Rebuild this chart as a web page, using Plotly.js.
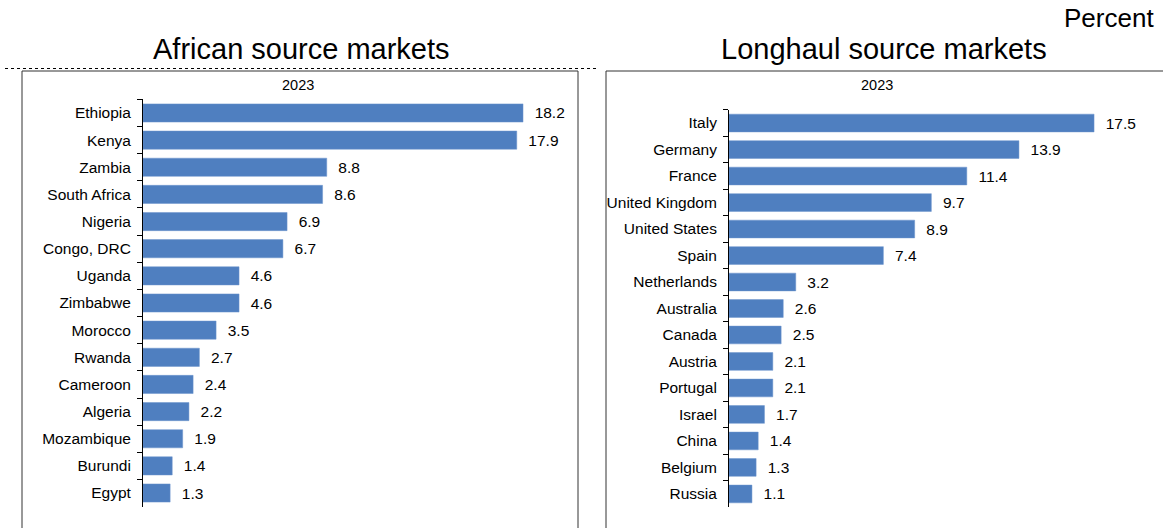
<!DOCTYPE html>
<html>
<head>
<meta charset="utf-8">
<script src="https://cdn.plot.ly/plotly-3.0.1.min.js"></script>
<style>html,body{margin:0;padding:0;background:#fff;}#chart{width:1163px;height:528px;}</style>
</head>
<body>
<div id="chart"></div>
<script>
const africanCountries = ["Ethiopia","Kenya","Zambia","South Africa","Nigeria","Congo, DRC","Uganda","Zimbabwe","Morocco","Rwanda","Cameroon","Algeria","Mozambique","Burundi","Egypt"];
const africanValues = [18.2,17.9,8.8,8.6,6.9,6.7,4.6,4.6,3.5,2.7,2.4,2.2,1.9,1.4,1.3];
const longhaulCountries = ["Italy","Germany","France","United Kingdom","United States","Spain","Netherlands","Australia","Canada","Austria","Portugal","Israel","China","Belgium","Russia"];
const longhaulValues = [17.5,13.9,11.4,9.7,8.9,7.4,3.2,2.6,2.5,2.1,2.1,1.7,1.4,1.3,1.1];
const leftTitle = "African source markets";
const rightTitle = "Longhaul source markets";
const yearLabel = "2023";
const unitLabel = "Percent";

const W = 1163, H = 528;
const px = v => v / W;
const py = v => (H - v) / H;
const labelFont = '"Liberation Sans", Arial, Helvetica, sans-serif';
const regular = '"Liberation Sans", Arial, Helvetica, sans-serif';
const barColor = '#4f7fc0';
const NB = '\u00a0\u00a0';

function barTrace(cats, vals, xa, ya) {
  return {
    type: 'bar', orientation: 'h',
    y: cats, x: vals, xaxis: xa, yaxis: ya,
    marker: {color: barColor, line: {color: '#6d95cc', width: 0.5}},
    text: vals.map(v => NB + v.toFixed(1)),
    textposition: 'outside', cliponaxis: false, constraintext: 'none',
    textfont: {family: labelFont, size: 15.5, color: '#000'},
    hoverinfo: 'skip', showlegend: false
  };
}

const yCommon = {
  type: 'category', range: [14.5, -0.5], autorange: false,
  showline: true, linecolor: '#000', linewidth: 1,
  ticks: 'outside', tickson: 'boundaries', ticklen: 5, tickcolor: '#000', tickwidth: 1,
  tickfont: {family: labelFont, size: 15.5, color: '#000'},
  ticklabelstandoff: 8, showgrid: false, zeroline: false, fixedrange: true
};
const xCommon = {
  range: [0, 20], visible: false, showgrid: false, zeroline: false, fixedrange: true
};

const layout = {
  width: W, height: H,
  margin: {l: 0, r: 0, t: 0, b: 0},
  paper_bgcolor: '#fff', plot_bgcolor: 'rgba(0,0,0,0)',
  bargap: 0.33,
  showlegend: false,
  xaxis: Object.assign({}, xCommon, {domain: [px(143), px(560.6)], anchor: 'y'}),
  yaxis: Object.assign({}, yCommon, {domain: [py(506.6), py(99.4)], anchor: 'x', categoryorder: 'array', categoryarray: africanCountries}),
  xaxis2: Object.assign({}, xCommon, {domain: [px(729), px(1146.2)], anchor: 'y2'}),
  yaxis2: Object.assign({}, yCommon, {domain: [py(507.2), py(109.8)], anchor: 'x2', categoryorder: 'array', categoryarray: longhaulCountries}),
  shapes: [
    {type: 'rect', xref: 'paper', yref: 'paper', x0: px(22), x1: px(578), y0: -0.05, y1: py(71), line: {color: '#333', width: 1}, layer: 'below'},
    {type: 'rect', xref: 'paper', yref: 'paper', x0: px(606), x1: 1.05, y0: -0.05, y1: py(71), line: {color: '#333', width: 1}, layer: 'below'},
    {type: 'line', xref: 'paper', yref: 'paper', x0: px(5), x1: px(597), y0: py(68.5), y1: py(68.5), line: {color: '#000', width: 1.2, dash: 'dot'}}
  ],
  annotations: [
    {text: leftTitle, xref: 'paper', yref: 'paper', x: px(301), y: py(49), xanchor: 'center', yanchor: 'middle', showarrow: false, font: {family: regular, size: 29, color: '#000'}},
    {text: rightTitle, xref: 'paper', yref: 'paper', x: px(884), y: py(49), xanchor: 'center', yanchor: 'middle', showarrow: false, font: {family: regular, size: 29, color: '#000'}},
    {text: unitLabel, xref: 'paper', yref: 'paper', x: px(1156), y: py(18), xanchor: 'right', yanchor: 'middle', showarrow: false, font: {family: regular, size: 26, color: '#000'}},
    {text: yearLabel, xref: 'paper', yref: 'paper', x: px(298), y: py(85), xanchor: 'center', yanchor: 'middle', showarrow: false, font: {family: labelFont, size: 14.5, color: '#000'}},
    {text: yearLabel, xref: 'paper', yref: 'paper', x: px(877), y: py(85), xanchor: 'center', yanchor: 'middle', showarrow: false, font: {family: labelFont, size: 14.5, color: '#000'}}
  ]
};

Plotly.newPlot('chart', [
  barTrace(africanCountries, africanValues, 'x', 'y'),
  barTrace(longhaulCountries, longhaulValues, 'x2', 'y2')
], layout, {staticPlot: true, displayModeBar: false});
</script>
</body>
</html>
